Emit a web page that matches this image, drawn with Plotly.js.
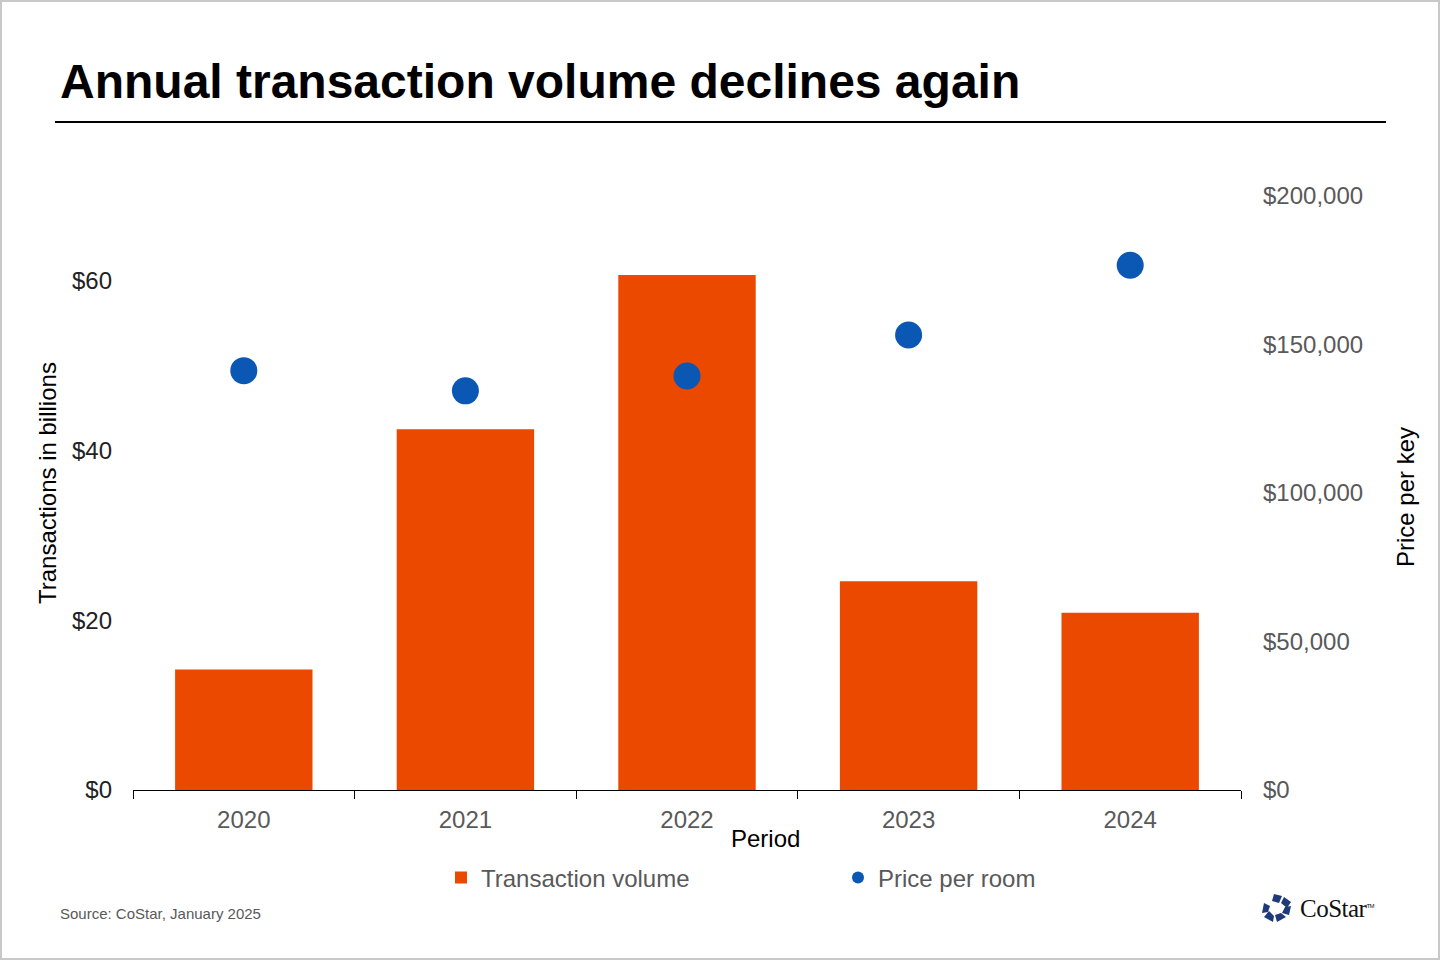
<!DOCTYPE html>
<html>
<head>
<meta charset="utf-8">
<script src="https://cdn.plot.ly/plotly-3.0.1.min.js"></script>
<style>
  html, body { margin: 0; padding: 0; background: #fff; }
  #frame { position: relative; width: 1440px; height: 960px; box-sizing: border-box; border: 2px solid #c8c8c8; overflow: hidden; }
  #chart { position: absolute; left: -2px; top: -2px; width: 1440px; height: 960px; }
  #logo { position: absolute; left: 1258px; top: 890px; display: flex; align-items: center; }
  #logo span { font-family: "Liberation Serif", "DejaVu Serif", serif; font-size: 25px; color: #111; margin-left: 6px; letter-spacing: -0.5px; }
  #logo sup { font-size: 6px; font-family: "Liberation Sans", sans-serif; }
</style>
</head>
<body>
<div id="frame">
  <div id="chart"></div>
  <div id="logo">
    <svg width="34" height="34" viewBox="0 0 34 34">
      <g fill="#1e3a78">
        <polygon points="14,2 22,4 19,11 12,9"/>
        <polygon points="24,5 31,10 27,16 21,11"/>
        <polygon points="31,14 29,23 22,21 25,15"/>
        <polygon points="26,25 17,30 15,23 21,21"/>
        <polygon points="13,30 4,25 9,19 14,24"/>
        <polygon points="2,21 4,11 10,14 8,20"/>
      </g>
    </svg>
    <span>CoStar<sup>TM</sup></span>
  </div>
</div>
<script>
// values
var years = ['2020', '2021', '2022', '2023', '2024'];
var volumeBillions = [14.2, 42.5, 60.7, 24.6, 20.9];
var pricePerRoom = [141200, 134400, 139400, 153200, 176700];

var orange = '#EB4800';
var blue = '#0B57B4';
var grey = '#595959';
var font = 'Liberation Sans, Arial, sans-serif';

var volume = {
    type: 'bar',
    x: years,
    y: volumeBillions,
    name: 'Transaction volume',
    marker: { color: orange },
    width: 0.62,
    hoverinfo: 'x+y'
};

var price = {
    type: 'scatter',
    mode: 'markers',
    x: years,
    y: pricePerRoom,
    yaxis: 'y2',
    name: 'Price per room',
    marker: { color: blue, size: 27 },
    hoverinfo: 'x+y'
};

var layout = {
    width: 1440,
    height: 960,
    margin: { l: 133, r: 199, t: 196, b: 170 },
    paper_bgcolor: '#fff',
    plot_bgcolor: '#fff',
    font: { family: font, size: 24, color: grey },
    title: {
        text: '<b>Annual transaction volume declines again</b>',
        font: { family: font, size: 48, color: '#000' },
        x: 60 / 1440, xanchor: 'left', xref: 'container',
        y: 1 - 81 / 960, yanchor: 'middle', yref: 'container'
    },
    showlegend: true,
    legend: {
        orientation: 'h',
        x: (441 - 133) / 1108, xanchor: 'left',
        y: -0.148, yanchor: 'middle',
        font: { family: font, size: 24, color: grey },
        entrywidth: 352,
        itemsizing: 'constant',
        itemwidth: 30,
        bgcolor: 'rgba(0,0,0,0)'
    },
    xaxis: {
        type: 'category',
        showline: true, linecolor: '#000', linewidth: 1,
        ticks: 'outside', tickson: 'boundaries', ticklen: 8, tickcolor: '#000',
        ticklabelstandoff: 8,
        showgrid: false, zeroline: false,
        tickfont: { family: font, size: 24, color: grey }
    },
    yaxis: {
        range: [0, 70],
        tick0: 0, dtick: 20,
        tickprefix: '$',
        showgrid: false, zeroline: false, showline: false,
        ticks: '', ticklabelstandoff: 20,
        tickfont: { family: font, size: 24, color: '#222' }
    },
    yaxis2: {
        overlaying: 'y',
        side: 'right',
        range: [0, 200000],
        dtick: 50000,
        tickprefix: '$',
        tickformat: ',d',
        showgrid: false, zeroline: false, showline: false,
        ticks: '', ticklabelstandoff: 21,
        tickfont: { family: font, size: 24, color: grey }
    },
    shapes: [{
        type: 'line', xref: 'paper', yref: 'paper',
        x0: (55 - 133) / 1108, x1: (1386 - 133) / 1108,
        y0: (790 - 122) / 594, y1: (790 - 122) / 594,
        line: { color: '#000', width: 2 }
    }],
    annotations: [
        {
            text: 'Transactions in billions', textangle: -90,
            xref: 'paper', yref: 'paper',
            x: (47 - 133) / 1108, y: (790 - 483) / 594,
            showarrow: false, xanchor: 'center', yanchor: 'middle',
            font: { family: font, size: 24, color: '#000' }
        },
        {
            text: 'Price per key', textangle: -90,
            xref: 'paper', yref: 'paper',
            x: (1405 - 133) / 1108, y: (790 - 497) / 594,
            showarrow: false, xanchor: 'center', yanchor: 'middle',
            font: { family: font, size: 24, color: '#000' }
        },
        {
            text: 'Period',
            xref: 'paper', yref: 'paper',
            x: (765 - 133) / 1108, y: (790 - 838) / 594,
            showarrow: false, xanchor: 'center', yanchor: 'middle',
            font: { family: font, size: 24, color: '#000' }
        },
        {
            text: 'Source: CoStar, January 2025',
            xref: 'paper', yref: 'paper',
            x: (58 - 133) / 1108, y: (790 - 913) / 594,
            showarrow: false, xanchor: 'left', yanchor: 'middle',
            font: { family: font, size: 15, color: grey }
        }
    ]
};

Plotly.newPlot('chart', [volume, price], layout, { displayModeBar: false, staticPlot: true });
</script>
</body>
</html>
